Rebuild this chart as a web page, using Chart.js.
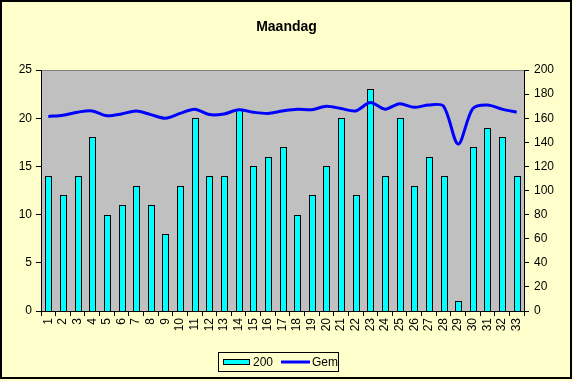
<!DOCTYPE html>
<html>
<head>
<meta charset="utf-8">
<script src="https://cdn.jsdelivr.net/npm/chart.js@4/dist/chart.umd.min.js"></script>
<style>
  html, body { margin: 0; padding: 0; background: #FFFFCC; }
  canvas { display: block; }
</style>
</head>
<body>
<canvas id="c" width="573" height="381"></canvas>
<script>
const categories = ['1','2','3','4','5','6','7','8','9','10','11','12','13','14','15','16','17','18','19','20','21','22','23','24','25','26','27','28','29','30','31','32','33'];
const values200 = [14,12,14,18,10,11,13,11,8,13,20,14,14,21,15,16,17,10,12,15,20,12,23,14,20,13,16,14,1,17,19,18,14];
const valuesGem = [161.5,162.5,165,166,162,163.5,166,163,160,164,167.5,163,163.5,167,165,164,166,167.5,167,170,168,166,173,167.5,172,169,171,170,138.5,168,171,167.5,165];
const leftTicks = [0,5,10,15,20,25];
const rightTicks = [0,20,40,60,80,100,120,140,160,180,200];

const FONT = "'Liberation Sans', Arial, sans-serif";

const backgroundPlugin = {
  id: 'bg',
  beforeDraw(chart) {
    const ctx = chart.ctx;
    const a = chart.chartArea;
    ctx.save();
    ctx.fillStyle = '#FFFFCC';
    ctx.fillRect(0, 0, chart.width, chart.height);
    ctx.fillStyle = '#C0C0C0';
    ctx.fillRect(a.left, a.top, a.right - a.left, a.bottom - a.top);
    ctx.strokeStyle = '#808080';
    ctx.lineWidth = 1;
    ctx.beginPath();
    ctx.moveTo(a.left, a.top + 0.5);
    ctx.lineTo(a.right, a.top + 0.5);
    ctx.stroke();
    ctx.restore();
  },
  beforeDatasetsDraw(chart) {
    // snap bar elements to whole pixels so their outlines stay crisp
    chart.data.datasets.forEach((ds, i) => {
      if (ds.type !== 'bar') return;
      chart.getDatasetMeta(i).data.forEach(el => {
        el.width = 7;
        el.x = Math.round(el.x) + 0.5;
        el.y = Math.round(el.y);
        el.base = Math.round(el.base);
      });
    });
  },
  afterDraw(chart) {
    const ctx = chart.ctx;
    ctx.save();
    // outer frame
    ctx.strokeStyle = '#000';
    ctx.lineWidth = 2;
    ctx.strokeRect(1, 1, 570, 377);
    // legend
    const bar = chart.data.datasets.find(d => d.type === 'bar');
    const line = chart.data.datasets.find(d => d.type === 'line');
    const lx = 218, ly = 352, lw = 120, lh = 19;
    ctx.lineWidth = 1;
    ctx.strokeStyle = '#000';
    ctx.strokeRect(lx + 0.5, ly + 0.5, lw, lh);
    const cy = ly + lh / 2 + 0.5;
    ctx.fillStyle = bar.backgroundColor;
    ctx.fillRect(lx + 5, cy - 3, 27, 6);
    ctx.strokeStyle = '#000';
    ctx.strokeRect(lx + 5.5, cy - 3 + 0.5, 26, 5);
    ctx.font = '12px ' + FONT;
    ctx.fillStyle = '#000';
    ctx.textBaseline = 'middle';
    ctx.textAlign = 'left';
    ctx.fillText(bar.label, lx + 35, cy + 1);
    ctx.strokeStyle = line.borderColor;
    ctx.lineWidth = 3;
    ctx.beginPath();
    ctx.moveTo(lx + 63, cy);
    ctx.lineTo(lx + 92, cy);
    ctx.stroke();
    ctx.fillText(line.label, lx + 94, cy + 1);
    ctx.restore();
  }
};

new Chart(document.getElementById('c'), {
  data: {
    labels: categories,
    datasets: [
      {
        type: 'line',
        label: 'Gem',
        data: valuesGem,
        yAxisID: 'y1',
        borderColor: '#0000FF',
        borderWidth: 3,
        pointRadius: 0,
        tension: 0.3,
        fill: false,
        order: 0
      },
      {
        type: 'bar',
        label: '200',
        data: values200,
        yAxisID: 'y',
        backgroundColor: '#00FFFF',
        borderColor: '#000000',
        borderWidth: 1,
        barPercentage: 0.48,
        categoryPercentage: 1.0,
        order: 1
      }
    ]
  },
  options: {
    responsive: false,
    devicePixelRatio: 1,
    animation: false,
    layout: { padding: { top: 0, left: 0, right: 0, bottom: 40 } },
    plugins: {
      legend: { display: false },
      tooltip: { enabled: false },
      title: {
        display: true,
        text: 'Maandag',
        color: '#000',
        font: { family: FONT, size: 14, weight: 'bold', lineHeight: 1.2 },
        padding: { top: 18.6, bottom: 34.6 }
      }
    },
    scales: {
      x: {
        offset: true,
        grid: { offset: true, drawOnChartArea: false, drawTicks: true, tickLength: 5, color: '#000' },
        border: { color: '#000', width: 1 },
        ticks: { autoSkip: false, minRotation: 90, maxRotation: 90, color: '#000', padding: 2, font: { family: FONT, size: 12 } },
        afterFit(s) { s.height = 30; }
      },
      y: {
        position: 'left',
        min: 0, max: 25,
        afterBuildTicks(s) { s.ticks = leftTicks.map(v => ({ value: v })); },
        grid: { drawOnChartArea: false, drawTicks: true, tickLength: 5, color: '#000' },
        border: { color: '#000', width: 1 },
        ticks: { color: '#000', padding: 4, font: { family: FONT, size: 12 } },
        afterFit(s) { s.width = 41; }
      },
      y1: {
        position: 'right',
        min: 0, max: 200,
        afterBuildTicks(s) { s.ticks = rightTicks.map(v => ({ value: v })); },
        grid: { drawOnChartArea: false, drawTicks: true, tickLength: 5, color: '#000' },
        border: { color: '#000', width: 1 },
        ticks: { color: '#000', padding: 5, font: { family: FONT, size: 12 } },
        afterFit(s) { s.width = 49; }
      }
    }
  },
  plugins: [backgroundPlugin]
});
</script>
</body>
</html>
